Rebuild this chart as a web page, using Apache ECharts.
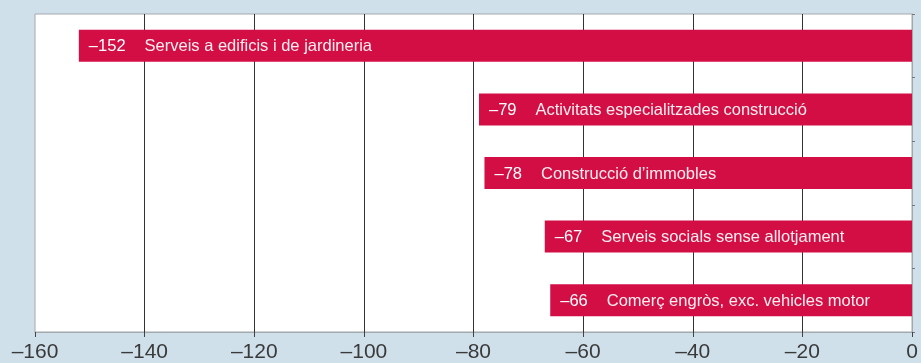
<!DOCTYPE html>
<html>
<head>
<meta charset="utf-8">
<script src="https://cdn.jsdelivr.net/npm/echarts@6/dist/echarts.min.js"></script>
<style>
  html, body { margin: 0; padding: 0; background: #cfe0eb; }
  #chart { width: 921px; height: 363px; }
</style>
</head>
<body>
<div id="chart"></div>
<script>
// Sectors with the largest falls (top to bottom)
const categories = [
  'Serveis a edificis i de jardineria',
  'Activitats especialitzades construcció',
  'Construcció d\u2019immobles',
  'Serveis socials sense allotjament',
  'Comerç engròs, exc. vehicles motor'
];
const values = [-152, -79, -78, -67, -66];

const xMin = -160;
const xMax = 0;
const xStep = 20;

const dash = (v) => String(v).replace('-', '\u2013');
const FONT = 'Liberation Sans, Arial, sans-serif';

const chart = echarts.init(document.getElementById('chart'));
chart.setOption({
  backgroundColor: '#cfe0eb',
  animation: false,
  grid: {
    left: 35, right: 9, top: 14, bottom: 31,
    show: true,
    backgroundColor: '#ffffff',
    borderColor: '#a3a8ad',
    borderWidth: 1
  },
  xAxis: {
    type: 'value',
    min: xMin, max: xMax, interval: xStep,
    axisLine: { show: true, lineStyle: { color: '#a3a8ad', width: 1 } },
    axisTick: { show: true, length: 5, lineStyle: { color: '#444', width: 1 } },
    axisLabel: {
      formatter: dash,
      fontFamily: FONT,
      fontSize: 21, color: '#3a3a3a', margin: 10
    },
    splitLine: {
      show: true, showMinLine: false, showMaxLine: false,
      lineStyle: { color: '#333', width: 1 }
    }
  },
  yAxis: {
    type: 'category',
    data: categories,
    inverse: true,
    position: 'right',
    axisLine: { show: true, lineStyle: { color: '#a3a8ad' } },
    axisTick: { show: true, length: 3, lineStyle: { color: '#777' } },
    axisLabel: { show: false },
    splitLine: { show: false }
  },
  series: [{
    type: 'bar',
    data: values,
    barWidth: 32,
    itemStyle: { color: '#d30e45' },
    label: {
      show: true,
      position: 'insideLeft',
      distance: 10,
      offset: [0, 1],
      fontFamily: FONT,
      formatter: (p) => '{v|' + dash(p.value) + '}{n|' + categories[p.dataIndex] + '}',
      rich: {
        v: { fontSize: 16.5, color: '#ffffff', padding: [0, 19, 0, 0], fontFamily: FONT },
        n: { fontSize: 16.5, color: '#fbeef1', fontFamily: FONT }
      }
    }
  }]
});
</script>
</body>
</html>
